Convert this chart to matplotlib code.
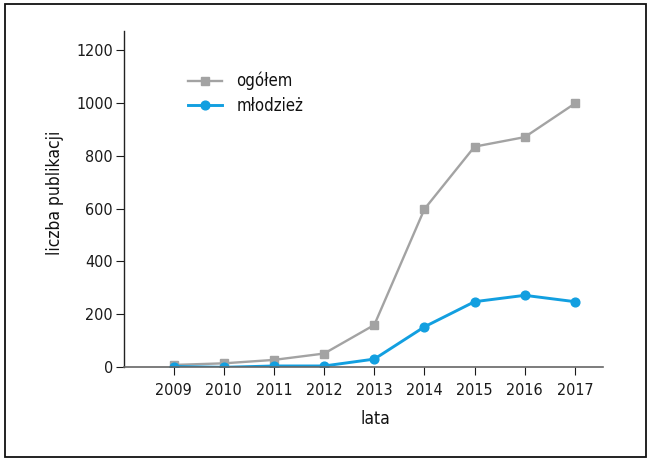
import matplotlib
matplotlib.use("Agg")
import matplotlib.pyplot as plt
from matplotlib.patches import Rectangle

years = [2009, 2010, 2011, 2012, 2013, 2014, 2015, 2016, 2017]
ogolem = [9, 15, 28, 52, 160, 598, 834, 870, 997]
mlodziez = [3, 0, 5, 5, 31, 153, 248, 272, 248]
series_labels = ["ogółem", "młodzież"]
yticks = [0, 200, 400, 600, 800, 1000, 1200]

plt.rcParams['font.family'] = ['DejaVu Sans']
plt.rcParams['font.stretch'] = 'condensed'

W, H = 650, 461
fig = plt.figure(figsize=(W / 100, H / 100), dpi=100)
ax = fig.add_axes([123.5 / W, 1 - 367.3 / H, (603 - 123.5) / W, (367.3 - 31) / H])

gray = '#a3a3a3'
blue = '#129fe0'
ax.plot(years, ogolem, color=gray, lw=1.7, marker='s', ms=5.8, label=series_labels[0])
ax.plot(years, mlodziez, color=blue, lw=2.1, marker='o', ms=6.3, label=series_labels[1])

ax.set_xlim(2008, 2017.56)
ax.set_ylim(0, 1271)
ax.set_xticks(years)
ax.set_yticks(yticks)
ax.tick_params(axis='both', direction='out', length=6, width=0.8, labelsize=11.5, colors='#1a1a1a')
ax.tick_params(axis='y', pad=1.5)
ax.tick_params(axis='x', pad=5)
for s in ['top', 'right']:
    ax.spines[s].set_visible(False)
ax.spines['left'].set_color('#222222')
ax.spines['left'].set_linewidth(1.0)
ax.spines['bottom'].set_color('#666666')
ax.spines['bottom'].set_linewidth(1.2)

ax.text((375 - 123.5) / (603 - 123.5), -(419 - 367.3) / (367.3 - 31), 'lata',
        transform=ax.transAxes, ha='center', va='center', fontsize=12.5, color='#111111')
ax.text((55 - 123.5) / (603 - 123.5), (367.3 - 193) / (367.3 - 31), 'liczba publikacji',
        transform=ax.transAxes, ha='center', va='center', rotation=90, fontsize=12.5, color='#111111')

leg = ax.legend(loc='upper left', bbox_to_anchor=((188 - 123.5) / (603 - 123.5), (367.3 - 72) / (367.3 - 31)),
                frameon=False, fontsize=12, handlelength=2.05, handletextpad=0.85,
                labelspacing=0.4, borderaxespad=0, borderpad=0)
for t in leg.get_texts():
    t.set_color('#111111')

fig.add_artist(Rectangle((5 / W, 1 - 457 / H), (646 - 5) / W, (457 - 4) / H,
                         transform=fig.transFigure, fill=False, lw=1.3, color='#111111'))

fig.savefig('out.png', dpi=100)
